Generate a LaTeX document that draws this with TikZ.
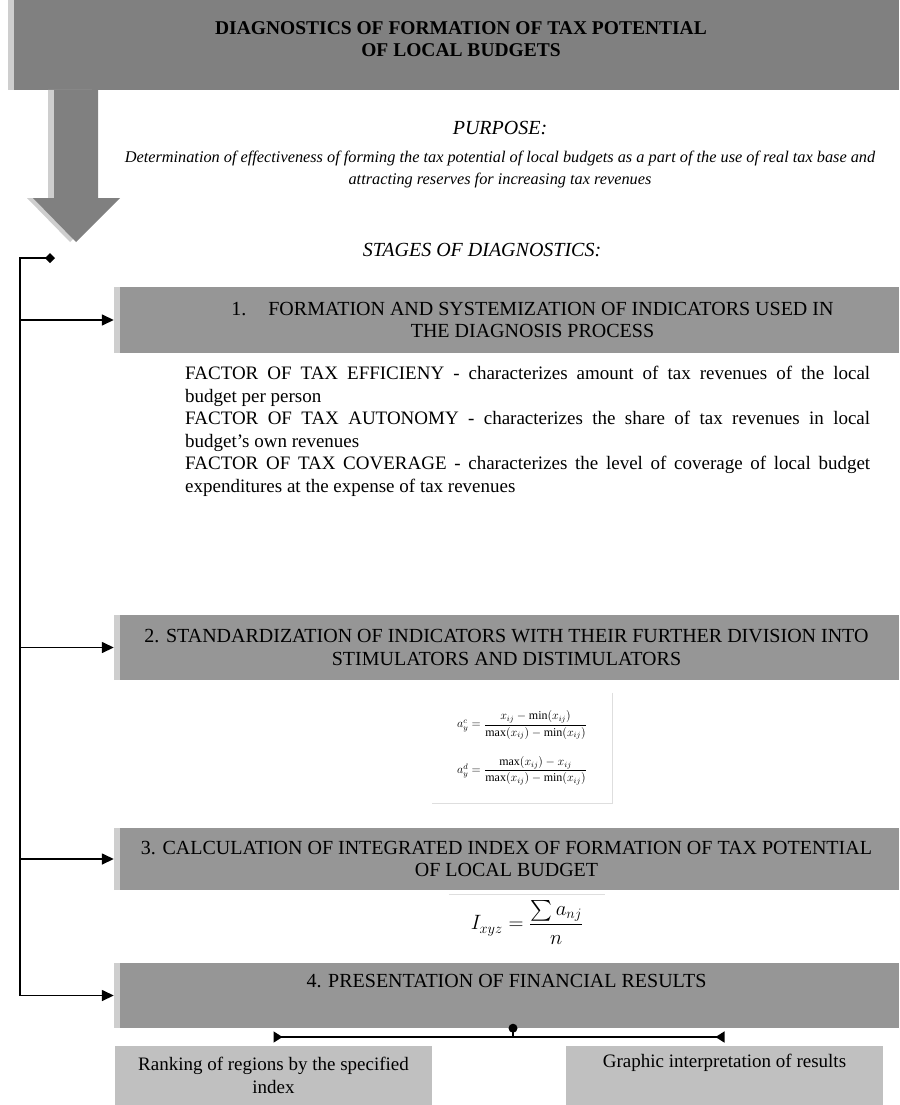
\documentclass[tikz,border=0pt]{standalone}
\usepackage{amsmath}
\usepackage{fontspec}
\setmainfont{Liberation Serif}
\usepackage{tikz}
\usetikzlibrary{arrows.meta,positioning}

\definecolor{headgray}{RGB}{128,128,128}
\definecolor{stagegray}{RGB}{150,150,150}
\definecolor{stripgray}{RGB}{206,206,206}
\definecolor{resultgray}{RGB}{192,192,192}
\definecolor{framegray}{RGB}{222,222,222}

\begin{document}
\begin{tikzpicture}[x=1pt, y=-1pt,
	every node/.style={font=\fontsize{19}{22.5}\selectfont},
	stripbox/.style={inner sep=0pt,
		path picture={\fill[stripgray] (path picture bounding box.south west)
			rectangle ([xshift=6pt]path picture bounding box.north west);}},
	headbox/.style={stripbox, fill=headgray, minimum width=891pt, minimum height=90pt},
	stagebox/.style={stripbox, fill=stagegray, minimum width=785pt, minimum height=65pt,
		align=center, font=\fontsize{20}{22.5}\selectfont},
	resultbox/.style={fill=resultgray, minimum width=317pt, minimum height=59pt,
		inner sep=0pt, align=center},
	note/.style={font=\fontsize{16.3}{22}\selectfont\itshape, align=center},
	imgframe/.style={draw=framegray, line width=1pt},
	conn/.style={line width=1.5pt},
	arr/.style={conn, -{Triangle[length=12pt,width=11pt]}}
]
	\useasboundingbox (0,0) rectangle (899,1105);

	% Heading
	\node[headbox] (head) at (453.5,45) {};
	\node[font=\fontsize{19.5}{22}\selectfont\bfseries, align=center] (title) at (461,39)
		{DIAGNOSTICS OF FORMATION OF TAX POTENTIAL\\OF LOCAL BUDGETS};

	% Big arrow under the heading
	\fill[stripgray] (48,90) -- (92,90) -- (92,198) -- (114,198) -- (70,242) -- (27,198)
		-- (48,198) -- cycle;
	\fill[headgray] (54,90) -- (98,90) -- (98,198) -- (120,198) -- (76,242) -- (33,198)
		-- (54,198) -- cycle;

	% Purpose
	\node[note, font=\fontsize{20}{22}\selectfont\itshape] (purp) at (500,128) {PURPOSE:};
	\node[note] (goal) at (500,169)
		{Determination of effectiveness of forming the tax potential of local budgets as a part of the use of real tax base and\\
		attracting reserves for increasing tax revenues};

	\node[note, font=\fontsize{20}{22}\selectfont\itshape] (stages) at (482,250)
		{STAGES OF DIAGNOSTICS:};

	% Stages
	\node[stagebox, minimum height=66pt] (st1) at (506.5,320)
		{\hspace*{52pt}1.\hspace{1.1em}FORMATION AND SYSTEMIZATION OF INDICATORS USED IN\\
		\hspace*{52pt}THE DIAGNOSIS PROCESS};
	\node[stagebox] (st2) at (506.5,647.5)
		{2. STANDARDIZATION OF INDICATORS WITH THEIR FURTHER DIVISION INTO\\
		STIMULATORS AND DISTIMULATORS};
	\node[stagebox, minimum height=62pt] (st3) at (506.5,859)
		{3. CALCULATION OF INTEGRATED INDEX OF FORMATION OF TAX POTENTIAL\\
		OF LOCAL BUDGET};
	\node[stagebox] (st4) at (506.5,995.5)
		{4. PRESENTATION OF FINANCIAL RESULTS\\ \strut};

	% Indicators of stage 1
	\node[anchor=north west, inner sep=0pt, text width=685pt, align=justify] (factors) at (185,366)
		{FACTOR OF TAX EFFICIENY - characterizes amount of tax revenues of the local\linebreak
		budget per person\\
		FACTOR OF TAX AUTONOMY - characterizes the share of tax revenues in local\linebreak
		budget's own revenues\\
		FACTOR OF TAX COVERAGE - characterizes the level of coverage of local budget\linebreak
		expenditures at the expense of tax revenues};

	% Formulas
	\node[minimum width=180pt, minimum height=110pt, inner sep=0pt, align=center,
		font=\fontsize{12}{14}\selectfont] (stdz) at (522,748)
		{$a_y^c=\dfrac{x_{ij}-\min(x_{ij})}{\max(x_{ij})-\min(x_{ij})}$\\[16pt]
		$a_y^d=\dfrac{\max(x_{ij})-x_{ij}}{\max(x_{ij})-\min(x_{ij})}$};
	\draw[imgframe] (stdz.north east) |- (stdz.south west);

	\node[minimum width=156pt, minimum height=56pt, inner sep=0pt, anchor=north,
		font=\fontsize{20.74}{24}\selectfont] (index) at (527,894)
		{$I_{xyz}=\dfrac{\textstyle\sum a_{nj}}{n}$};
	\draw[imgframe] (index.north west) -- (index.north east);

	% Results
	\node[resultbox] (rank) at (273.5,1075.5)
		{Ranking of regions by the specified\\index};
	\node[resultbox] (graph) at (724.5,1075.5)
		{Graphic interpretation of results\\ \strut};

	% Connectors
	\coordinate (start) at (55,258);
	\coordinate (corner) at (20,258);
	\coordinate (fork) at (513,1037);

	\draw[conn, {Diamond[length=10pt,width=10pt]}-{Triangle[length=12pt,width=11pt]}]
		(start) -- (corner) |- (st4.west);
	\draw[arr] (corner |- st1.west) -- (st1.west);
	\draw[arr] (corner |- st2.west) -- (st2.west);
	\draw[arr] (corner |- st3.west) -- (st3.west);

	\draw[conn] (fork) -- (fork |- st4.south);
	\fill (fork |- st4.south) circle (4.5pt);
	\draw[conn, {Triangle[reversed,length=9pt,width=11pt]}-{Triangle[reversed,length=9pt,width=11pt]}]
		(rank.north |- fork) -- (graph.north |- fork);
\end{tikzpicture}
\end{document}
